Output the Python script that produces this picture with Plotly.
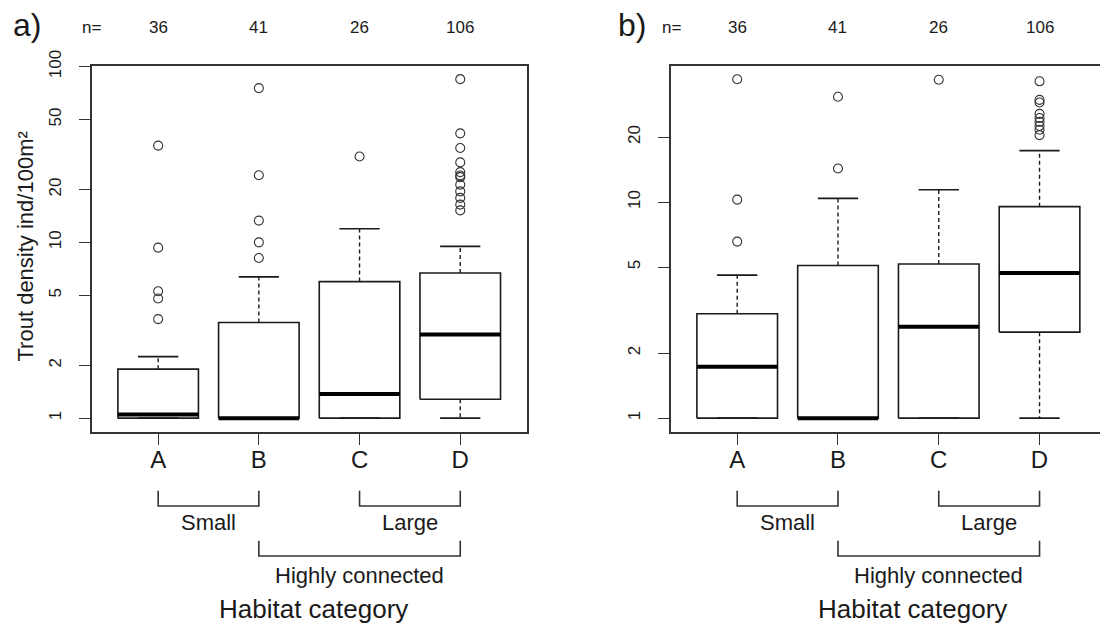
import plotly.graph_objects as go

W, H = 1100, 627

# ---------------- data ----------------
categories = ["A", "B", "C", "D"]
n_counts = [36, 41, 26, 106]

# panel a) statistics
a_q1 = [1.0, 1.0, 1.0, 1.28]
a_median = [1.05, 1.0, 1.37, 2.99]
a_q3 = [1.90, 3.50, 5.98, 6.70]
a_lower = [1.0, 1.0, 1.0, 1.0]
a_upper = [2.24, 6.36, 11.96, 9.49]
a_out_A = [35.5, 9.33, 5.27, 4.79, 3.66]
a_out_B = [75.4, 24.1, 13.3, 10.0, 8.15]
a_out_C = [30.8]
a_out_D = [84.8, 41.7, 34.4, 28.5, 25.1, 24.0, 23.5, 21.3, 19.5, 17.9, 16.4, 15.2]

# panel b) statistics
b_q1 = [1.0, 1.0, 1.0, 2.50]
b_median = [1.73, 1.0, 2.65, 4.70]
b_q3 = [3.04, 5.09, 5.17, 9.52]
b_lower = [1.0, 1.0, 1.0, 1.0]
b_upper = [4.59, 10.4, 11.4, 17.3]
b_out_A = [37.0, 10.26, 6.56]
b_out_B = [30.7, 14.3]
b_out_C = [36.8]
b_out_D = [36.2, 29.7, 28.9, 25.6, 24.5, 23.5, 22.5, 21.6, 20.4]

a_ticks = [1, 2, 5, 10, 20, 50, 100]
b_ticks = [1, 2, 5, 10, 20]

groups = ["Small", "Large", "Highly connected"]
group_span = [(1, 2), (3, 4), (2, 4)]

# ---------------- styling ----------------
FONT = "Liberation Sans, Arial, Helvetica, sans-serif"
INK = "#1a1a1a"
BOXW = 0.8
CAPW = 0.4


def py(p):  # screen pixel row -> paper y
    return 1 - p / H


def px(p):  # screen pixel column -> paper x
    return p / W


fig = go.Figure()


def add_panel(xa, ya, q1, med, q3, lo, hi, outs):
    pos = list(range(1, len(categories) + 1))
    bx, by, wx, wy, cx, cy, mx, my, ox, oy = [], [], [], [], [], [], [], [], [], []
    for i, p in enumerate(pos):
        l, r = p - BOXW / 2, p + BOXW / 2
        bx += [l, r, r, l, l, None]
        by += [q1[i], q1[i], q3[i], q3[i], q1[i], None]
        mx += [l, r, None]
        my += [med[i], med[i], None]
        wx += [p, p, None, p, p, None]
        wy += [q3[i], hi[i], None, q1[i], lo[i], None]
        cx += [p - CAPW / 2, p + CAPW / 2, None, p - CAPW / 2, p + CAPW / 2, None]
        cy += [hi[i], hi[i], None, lo[i], lo[i], None]
        ox += [p] * len(outs[i])
        oy += outs[i]
    common = dict(xaxis=xa, yaxis=ya, showlegend=False, hoverinfo="skip", mode="lines")
    fig.add_trace(go.Scatter(x=wx, y=wy, line=dict(color=INK, width=1.4, dash="4px,3px"), **common))
    fig.add_trace(go.Scatter(x=cx, y=cy, line=dict(color=INK, width=1.6), **common))
    fig.add_trace(go.Scatter(x=bx, y=by, line=dict(color=INK, width=1.6), **common))
    fig.add_trace(go.Scatter(x=mx, y=my, line=dict(color="#000000", width=4), **common))
    fig.add_trace(go.Scatter(x=ox, y=oy, xaxis=xa, yaxis=ya, mode="markers", showlegend=False,
                             hoverinfo="skip",
                             marker=dict(symbol="circle-open", size=9, color="#333333",
                                         line=dict(width=1.1, color="#333333"))))


add_panel("x", "y", a_q1, a_median, a_q3, a_lower, a_upper, [a_out_A, a_out_B, a_out_C, a_out_D])
add_panel("x2", "y2", b_q1, b_median, b_q3, b_lower, b_upper, [b_out_A, b_out_B, b_out_C, b_out_D])

ydom = [py(431.7), py(65.7)]
axis_common = dict(showgrid=False, zeroline=False, showline=True, linecolor="#333333", linewidth=1.6,
                   ticks="outside", ticklen=11, tickwidth=1.4, tickcolor="#333333", automargin=False)

fig.update_layout(
    width=W, height=H, template="none",
    paper_bgcolor="white", plot_bgcolor="white",
    margin=dict(l=0, r=0, t=0, b=0),
    font=dict(family=FONT, color=INK),
    xaxis=dict(domain=[px(91.7), px(526.7)], range=[0.34, 4.66], tickvals=[1, 2, 3, 4],
               ticktext=categories, tickfont=dict(size=24), mirror=True, ticklabelstandoff=-5,
               **axis_common),
    yaxis=dict(domain=ydom, type="log", range=[-0.0771, 2.005], tickvals=a_ticks,
               ticktext=[str(t) for t in a_ticks], tickangle=-90, tickfont=dict(size=17),
               mirror=True, ticklabelstandoff=11, **axis_common),
    xaxis2=dict(domain=[px(670.7), 1.0], range=[0.34, 4.60], tickvals=[1, 2, 3, 4],
                ticktext=categories, tickfont=dict(size=24), mirror=True, anchor="y2",
                ticklabelstandoff=-5, **axis_common),
    yaxis2=dict(domain=ydom, type="log", range=[-0.0627, 1.631], tickvals=b_ticks,
                ticktext=[str(t) for t in b_ticks], tickangle=-90, tickfont=dict(size=17),
                mirror=False, anchor="x2", ticklabelstandoff=11, **axis_common),
)

ann = []
shapes = []
# y-axis title of panel a)
ann.append(dict(text="Trout density ind/100m²", x=px(24.5), y=py(247), xref="paper", yref="paper",
                textangle=-90, showarrow=False, font=dict(size=22),
                xanchor="center", yanchor="middle"))
for xa, label, lab_x, nx, hab_x in [("x", "a)", 27, 91.7, 313.9),
                                    ("x2", "b)", 632, 671, 912.5)]:
    ann.append(dict(text=label, x=px(lab_x), y=py(25), xref="paper", yref="paper",
                    showarrow=False, font=dict(size=32), xanchor="center", yanchor="middle"))
    ann.append(dict(text="n=", x=px(nx), y=py(27), xref="paper", yref="paper",
                    showarrow=False, font=dict(size=17), xanchor="center", yanchor="middle"))
    for i, n in enumerate(n_counts):
        ann.append(dict(text=str(n), x=i + 1, y=py(27), xref=xa, yref="paper",
                        showarrow=False, font=dict(size=17), xanchor="center", yanchor="middle"))
    ann.append(dict(text="Habitat category", x=px(hab_x), y=py(609), xref="paper", yref="paper",
                    showarrow=False, font=dict(size=26), xanchor="center", yanchor="middle"))
    # brackets
    rows = [(490.7, 506.0, 522.3), (490.7, 506.0, 522.3), (540.7, 556.0, 575.0)]
    for g, (s, e), (ytop, ybot, ytext) in zip(groups, group_span, rows):
        path = f"M {s},{py(ytop)} L {s},{py(ybot)} L {e},{py(ybot)} L {e},{py(ytop)}"
        shapes.append(dict(type="path", path=path, xref=xa, yref="paper",
                           line=dict(color="#333333", width=1.6)))
        ann.append(dict(text=g, x=(s + e) / 2, y=py(ytext), xref=xa, yref="paper",
                        showarrow=False, font=dict(size=22), xanchor="center", yanchor="middle"))

fig.update_layout(annotations=ann, shapes=shapes)
# remove the browser's default 8px page margin so the figure fills the window exactly
fig.write_html("out.html", config={"displayModeBar": False},
               post_script="document.body.style.margin='0';document.body.style.overflow='hidden';")
